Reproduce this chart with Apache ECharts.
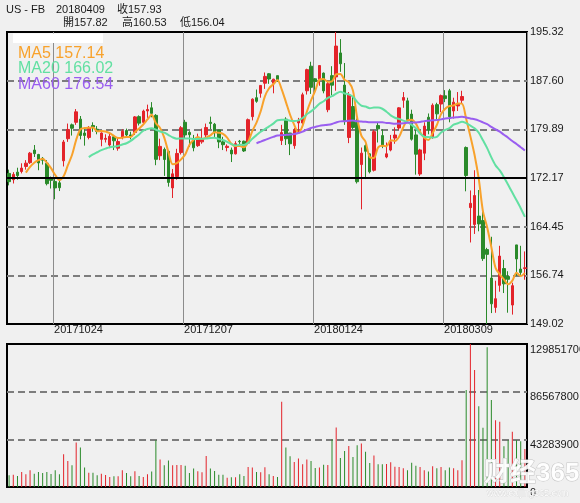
<!DOCTYPE html>
<html>
<head>
<meta charset="utf-8">
<script src="https://cdn.jsdelivr.net/npm/echarts@6/dist/echarts.min.js"></script>
<style>
  html, body { margin: 0; padding: 0; background: #f0f0f0; }
  #chart { width: 580px; height: 503px; }
</style>
</head>
<body>
<div id="chart"></div>
<script>
// ---- FB daily bars, 2017-10-10 .. 2018-04-09 ----
const symbol = 'US - FB';

const dates = [
  '20171010','20171011','20171012','20171013','20171016','20171017','20171018','20171019','20171020','20171023',
  '20171024','20171025','20171026','20171027','20171030','20171031','20171101','20171102','20171103','20171106',
  '20171107','20171108','20171109','20171110','20171113','20171114','20171115','20171116','20171117','20171120',
  '20171121','20171122','20171124','20171127','20171128','20171129','20171130','20171201','20171204','20171205',
  '20171206','20171207','20171208','20171211','20171212','20171213','20171214','20171215','20171218','20171219',
  '20171220','20171221','20171222','20171226','20171227','20171228','20171229','20180102','20180103','20180104',
  '20180105','20180108','20180109','20180110','20180111','20180112','20180116','20180117','20180118','20180119',
  '20180122','20180123','20180124','20180125','20180126','20180129','20180130','20180131','20180201','20180202',
  '20180205','20180206','20180207','20180208','20180209','20180212','20180213','20180214','20180215','20180216',
  '20180220','20180221','20180222','20180223','20180226','20180227','20180228','20180301','20180302','20180305',
  '20180306','20180307','20180308','20180309','20180312','20180313','20180314','20180315','20180316','20180319',
  '20180320','20180321','20180322','20180323','20180326','20180327','20180328','20180329','20180402','20180403',
  '20180404','20180405','20180406','20180409'
];

const opens = [
  172.90,171.90,173.10,173.20,174.00,174.60,176.60,175.90,175.30,174.50,
  172.10,171.60,171.40,174.90,178.40,180.60,181.00,181.50,179.30,178.60,
  180.50,179.90,178.30,178.30,177.40,178.70,176.90,178.60,179.70,179.00,
  179.40,181.90,181.00,182.80,183.30,182.10,175.70,176.70,176.40,170.60,
  172.40,176.20,181.00,179.40,178.30,177.30,177.90,179.00,181.00,180.70,
  179.80,177.90,177.00,176.60,176.00,178.00,178.00,177.70,181.90,184.90,
  185.60,187.20,188.70,187.20,188.40,178.10,181.50,179.30,177.30,180.90,
  180.90,186.00,189.90,187.90,187.80,188.80,183.00,188.40,188.20,192.00,
  186.90,178.60,183.50,181.00,174.30,177.30,176.00,173.40,180.50,178.90,
  175.50,176.60,178.50,180.10,184.50,184.40,182.30,179.00,172.80,176.10,
  181.80,178.60,183.80,183.90,185.20,186.00,182.80,183.60,184.50,177.01,
  167.47,164.80,166.13,165.44,160.82,156.31,151.65,155.15,157.81,156.55,
  152.03,161.56,157.73,157.82
];

const closes = [
  171.59,172.74,172.55,173.74,174.52,176.11,176.03,174.56,174.98,171.27,
  171.80,170.60,170.63,177.88,179.87,180.06,182.66,178.92,178.92,180.17,
  180.25,179.56,179.30,178.46,178.77,178.07,177.95,179.59,179.00,178.74,
  181.86,180.87,182.78,183.03,182.42,175.13,177.18,175.10,171.47,172.83,
  176.06,180.14,179.00,179.04,176.96,178.30,178.39,180.18,180.82,179.51,
  177.89,177.45,177.20,175.99,177.62,177.92,176.46,181.42,184.67,184.33,
  186.85,188.28,187.87,187.84,187.77,179.37,178.39,177.60,179.80,181.29,
  185.37,189.35,186.55,187.48,190.00,185.98,187.12,186.89,193.09,190.28,
  181.26,185.31,180.18,171.58,176.11,176.41,173.15,179.52,179.96,177.36,
  176.01,177.91,178.99,183.29,184.93,181.46,178.32,175.94,176.62,180.40,
  179.78,183.71,182.34,185.23,184.76,181.88,184.19,183.86,185.09,172.56,
  168.15,169.39,164.89,159.39,160.06,152.22,153.03,159.79,155.39,156.11,
  155.10,159.34,157.20,157.93
];

const lows = [
  171.00,171.30,171.90,172.90,173.50,174.40,175.50,173.40,174.30,171.00,
  170.50,168.80,170.10,174.00,177.90,178.90,180.60,178.30,177.30,178.30,
  179.50,179.10,177.20,177.80,176.90,176.60,176.50,178.30,178.60,178.30,
  179.00,180.50,180.60,181.70,181.80,174.20,175.00,172.50,170.80,169.00,
  171.90,175.90,178.40,177.10,176.40,177.10,177.60,178.40,179.90,178.50,
  176.90,176.60,176.40,174.70,175.90,177.30,176.30,177.60,181.30,184.10,
  184.90,186.30,187.10,185.60,187.40,177.40,177.40,175.80,176.80,179.30,
  180.20,185.40,185.50,185.50,186.80,185.60,182.60,185.30,186.00,189.00,
  180.60,177.70,179.90,171.30,167.20,172.00,172.90,173.20,177.80,176.90,
  175.30,176.40,177.60,179.80,183.30,181.40,178.10,172.70,172.50,175.00,
  179.10,178.40,181.40,182.60,184.20,181.00,181.60,182.80,184.00,170.06,
  161.95,163.30,163.72,159.02,149.02,150.75,150.80,154.14,153.93,150.81,
  150.51,156.65,156.81,156.04
];

const highs = [
  173.50,173.10,173.80,174.50,175.00,176.30,177.40,176.00,175.50,175.00,
  172.40,172.00,172.30,178.20,180.80,180.80,183.10,182.00,179.90,180.40,
  181.00,180.40,179.40,179.10,179.40,179.00,178.60,179.90,180.00,179.50,
  182.00,182.10,183.00,183.80,184.20,182.30,178.40,177.00,176.60,173.60,
  176.80,180.40,181.40,179.60,179.00,179.20,180.00,180.80,181.90,180.90,
  179.80,178.70,177.50,177.00,178.00,178.20,178.10,181.60,184.80,186.20,
  186.90,188.90,188.80,187.90,188.40,180.60,181.80,179.30,180.10,181.70,
  185.70,189.50,190.60,188.00,190.00,188.90,187.60,189.90,195.32,194.20,
  190.40,185.80,185.10,181.60,177.00,177.50,176.10,179.80,180.90,179.90,
  177.80,179.00,180.20,183.40,185.80,184.90,183.00,179.80,176.80,181.00,
  182.40,184.00,184.10,185.40,186.10,186.30,184.90,185.80,186.00,177.17,
  170.20,173.40,170.27,167.10,161.10,162.85,155.88,161.42,159.20,157.39,
  155.56,161.57,161.42,160.53
];

// shares traded per day
const volumes = [
  10600000,11200000,10000000,13700000,11500000,15200000,12100000,13700000,12700000,13700000,
  11800000,15200000,11500000,29700000,23700000,19700000,40400000,35800000,17600000,13000000,
  13000000,10600000,12100000,10900000,9100000,9700000,9700000,15200000,12700000,9700000,
  14300000,10000000,9100000,11500000,14000000,42500000,24900000,19700000,24000000,19700000,
  20000000,20000000,19400000,12700000,16700000,14300000,13300000,28200000,16700000,14600000,
  11200000,11200000,8500000,8800000,8800000,11500000,10000000,18200000,17600000,13700000,
  13300000,17900000,11500000,10000000,9100000,77400000,35800000,27900000,22800000,25800000,
  20600000,24900000,23700000,17300000,17600000,20300000,20000000,43100000,54000000,26400000,
  32800000,37300000,27300000,37900000,39400000,31900000,21800000,28500000,20600000,20600000,
  20900000,22500000,18500000,18200000,17000000,15200000,22100000,19400000,18200000,15200000,
  14000000,18800000,17000000,18200000,15200000,17600000,17000000,15200000,24300000,88000000,
  129851700,106200000,73400000,53700000,126800000,78900000,60700000,59200000,37000000,42500000,
  50100000,42500000,41600000,34600000
];

// dates printed under the price panel
const labelDates = ['20171024', '20171207', '20180124', '20180309'];
const maPeriods = [5, 20, 60];

// ---- styling ----
const FONT = "'Liberation Sans', 'Noto Sans CJK TC', sans-serif";
const UP = '#e3232a';
const DOWN = '#2a8a2a';
const MA_COLORS = ['#f8a22c', '#62e0a2', '#9a5ef0'];
const GRID_DASH = { color: '#7d7d7d', width: 2, type: [7, 4] };

// ---- derived values ----
const last = dates.length - 1;
const priceMin = Math.min(...lows);
const priceMax = Math.max(...highs);
const priceTicks = Array.from({ length: 7 }, (_, k) =>
  (priceMin + k * (priceMax - priceMin) / 6).toFixed(2));
const volMax = Math.max(...volumes);

function movingAverage(values, n) {
  return values.map((_, i) => {
    if (i < n - 1) return '-';
    let s = 0;
    for (let k = i - n + 1; k <= i; k++) s += values[k];
    return s / n;
  });
}
const maSeries = maPeriods.map(n => movingAverage(closes, n));

const candles = dates.map((_, i) => [opens[i], closes[i], lows[i], highs[i]]);
const volumeBars = volumes.map((v, i) => ({
  value: v,
  itemStyle: { color: closes[i] >= opens[i] ? UP : DOWN }
}));

function txt(text, x, y, size, color, extra) {
  return Object.assign({
    type: 'text', x: x, y: y, z: 100,
    style: {
      text: text, fill: color, font: size + 'px ' + FONT,
      align: 'left', verticalAlign: 'middle',
      textAlign: 'left', textVerticalAlign: 'middle'
    }
  }, extra || {});
}

const graphics = [
  txt(symbol, 6, 9.5, 11, '#1a1a1a'),
  txt(dates[last], 56, 9.5, 11, '#1a1a1a'),
  txt('收' + closes[last].toFixed(2), 117, 9.5, 11, '#1a1a1a'),
  txt('開' + opens[last].toFixed(2), 63, 23, 11, '#1a1a1a'),
  txt('高' + highs[last].toFixed(2), 122, 23, 11, '#1a1a1a'),
  txt('低' + lows[last].toFixed(2), 180, 23, 11, '#1a1a1a'),
  { type: 'rect', z: 100, shape: { x: 13, y: 33.5, width: 90, height: 9.5 }, style: { fill: '#ffffff' } }
];
maPeriods.forEach((n, k) => {
  graphics.push(txt('MA' + n + ' ' + maSeries[k][last].toFixed(2), 18, 53.5 + k * 15.5, 16, MA_COLORS[k]));
});
// site mark in the lower right corner
graphics.push({
  type: 'text', x: 484, y: 474, z: 110,
  style: {
    text: '财经365', font: 'bold 26px ' + FONT, fill: 'rgba(255,255,255,0.92)',
    stroke: '#c4c4c4', lineWidth: 1,
    align: 'left', verticalAlign: 'middle', textAlign: 'left', textVerticalAlign: 'middle'
  }
});
graphics.push({
  type: 'text', x: 487, y: 494, z: 110,
  style: {
    text: 'www.caijing365.com', font: '9px ' + FONT, fill: '#ffffff',
    stroke: '#cfcfcf', lineWidth: 0.6,
    align: 'left', verticalAlign: 'middle', textAlign: 'left', textVerticalAlign: 'middle'
  }
});

const gridBase = {
  left: 7, right: 53, show: true, borderColor: '#000', borderWidth: 2,
  backgroundColor: 'transparent', containLabel: false, outerBoundsMode: 'none'
};

const option = {
  animation: false,
  backgroundColor: '#f0f0f0',
  textStyle: { fontFamily: FONT },
  grid: [
    Object.assign({ top: 32, height: 292 }, gridBase),
    Object.assign({ top: 344, height: 143 }, gridBase)
  ],
  xAxis: [
    {
      type: 'category', gridIndex: 0, data: dates, boundaryGap: true,
      axisLine: { show: false }, axisTick: { show: false },
      axisLabel: {
        interval: (i, v) => labelDates.includes(v),
        align: 'left', padding: [0, 0, 0, 3], margin: 0,
        fontSize: 11, color: '#1a1a1a', fontFamily: FONT
      },
      splitLine: {
        show: true,
        interval: (i) => i > 0 && labelDates.includes(dates[i - 1]),
        lineStyle: { color: '#8c8c8c', width: 1, type: 'solid' }
      }
    },
    {
      type: 'category', gridIndex: 1, data: dates, boundaryGap: true,
      axisLine: { show: false }, axisTick: { show: false },
      axisLabel: { show: false }, splitLine: { show: false }
    }
  ],
  yAxis: [
    { type: 'value', gridIndex: 0, min: priceMin, max: priceMax, show: false },
    {
      type: 'value', gridIndex: 0, min: 0, max: 6, interval: 1, position: 'right',
      axisLine: { show: false }, axisTick: { show: false },
      axisLabel: {
        formatter: v => priceTicks[Math.round(v)],
        margin: 3, fontSize: 11, color: '#1a1a1a', fontFamily: FONT,
        verticalAlign: 'middle', padding: [0, 0, 7, 0]
      },
      splitLine: { show: true, showMinLine: false, showMaxLine: false, lineStyle: GRID_DASH }
    },
    {
      type: 'value', gridIndex: 1, min: 0, max: volMax, interval: volMax / 3, position: 'right',
      axisLine: { show: false }, axisTick: { show: false },
      axisLabel: {
        formatter: v => String(Math.round(v)),
        margin: 3, fontSize: 11, color: '#1a1a1a', fontFamily: FONT,
        verticalAlign: 'top'
      },
      splitLine: { show: true, showMinLine: false, showMaxLine: false, lineStyle: GRID_DASH }
    }
  ],
  series: [
    {
      type: 'candlestick', xAxisIndex: 0, yAxisIndex: 0, data: candles,
      barWidth: 3,
      itemStyle: { color: UP, color0: DOWN, borderColor: UP, borderColor0: DOWN, borderWidth: 1 },
      markLine: {
        silent: true, symbol: 'none', animation: false,
        label: { show: false },
        lineStyle: { color: '#000', width: 2, type: 'solid' },
        data: [{ yAxis: (priceMin + priceMax) / 2 }]
      }
    },
    ...maPeriods.map((n, k) => ({
      type: 'line', name: 'MA' + n, xAxisIndex: 0, yAxisIndex: 0,
      data: maSeries[k], smooth: 0.3, showSymbol: false, silent: true,
      lineStyle: { color: MA_COLORS[k], width: 2 }
    })),
    {
      type: 'bar', xAxisIndex: 1, yAxisIndex: 2, data: volumeBars,
      barWidth: 1, silent: true
    }
  ],
  graphic: graphics
};

const chart = echarts.init(document.getElementById('chart'), null, { renderer: 'canvas' });
chart.setOption(option);
</script>
</body>
</html>
